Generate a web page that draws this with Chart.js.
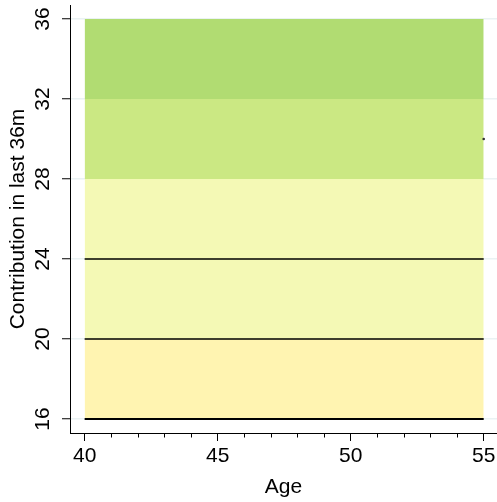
<!DOCTYPE html>
<html>
<head>
<meta charset="utf-8">
<script src="https://cdn.jsdelivr.net/npm/chart.js@4/dist/chart.umd.min.js"></script>
<style>
  html, body { margin: 0; padding: 0; background: #ffffff; }
  #wrap { width: 497px; height: 502px; }
</style>
</head>
<body>
<div id="wrap"><canvas id="c" width="497" height="502"></canvas></div>
<script>
// ---- data ----
const ageRange = [40, 55];
const bandLower = [16, 20, 28, 32];
const bandUpper = [20, 28, 32, 36];
const refLines = [16, 20, 24];
const markerAge = [55];
const markerValue = [30];
const xTickValues = [40, 45, 50, 55];
const xMinorTicks = [41, 42, 43, 44, 46, 47, 48, 49, 51, 52, 53, 54];
const yTickValues = [16, 20, 24, 28, 32, 36];

// ---- styling ----
const bandColors = ['#fff4b1', '#f4f9b5', '#cbe883', '#b1dc72'];
const refLineWidths = [2, 1.5, 1.5];
const FONT = '"Liberation Sans", Arial, sans-serif';

const datasets = [];
refLines.forEach((v, i) => {
  datasets.push({
    type: 'line',
    data: ageRange.map(a => ({ x: a, y: v })),
    borderColor: '#000000',
    borderWidth: refLineWidths[i],
    pointRadius: 0,
    fill: false,
    order: 0
  });
});
datasets.push({
  type: 'line',
  data: markerAge.map((a, i) => ({ x: a, y: markerValue[i] })),
  showLine: false,
  pointRadius: 1.3,
  pointBackgroundColor: '#333333',
  pointBorderWidth: 0,
  order: 0
});
bandLower.forEach((lo, i) => {
  datasets.push({
    type: 'line',
    data: ageRange.map(a => ({ x: a, y: bandUpper[i] })),
    borderWidth: 0,
    borderColor: 'rgba(0,0,0,0)',
    backgroundColor: bandColors[i],
    pointRadius: 0,
    fill: { value: lo },
    order: 2
  });
});

const minorTickPlugin = {
  id: 'minorTicks',
  afterDraw(chart) {
    const xs = chart.scales.x;
    const ctx = chart.ctx;
    const y0 = chart.chartArea.bottom;
    ctx.save();
    ctx.strokeStyle = '#000000';
    ctx.lineWidth = 1;
    ctx.beginPath();
    xMinorTicks.forEach(v => {
      const px = Math.round(xs.getPixelForValue(v)) + 0.5;
      ctx.moveTo(px, y0);
      ctx.lineTo(px, y0 + 4.5);
    });
    ctx.stroke();
    ctx.restore();
  }
};

new Chart(document.getElementById('c'), {
  type: 'line',
  data: { datasets },
  plugins: [minorTickPlugin],
  options: {
    responsive: false,
    animation: false,
    devicePixelRatio: 1,
    layout: { autoPadding: false, padding: { top: 5, right: 0, bottom: 0, left: 0 } },
    plugins: { legend: { display: false }, tooltip: { enabled: false } },
    scales: {
      x: {
        type: 'linear',
        min: 39.45,
        max: 55.5,
        afterFit(s) { s.height = 69; s.paddingLeft = 0; s.paddingRight = 0; },
        afterBuildTicks(s) { s.ticks = xTickValues.map(v => ({ value: v })); },
        ticks: {
          color: '#000000',
          font: { family: FONT, size: 21 },
          padding: 3,
          maxRotation: 0,
          minRotation: 0
        },
        grid: {
          drawOnChartArea: false,
          drawTicks: true,
          tickLength: 8,
          tickColor: '#000000',
          tickWidth: 1
        },
        border: { display: true, color: '#000000', width: 1 },
        title: {
          display: true,
          text: 'Age',
          color: '#000000',
          font: { family: FONT, size: 21, lineHeight: 1.2 },
          padding: { top: 0, bottom: 2.5 }
        }
      },
      y: {
        type: 'linear',
        min: 15.3,
        max: 36.7,
        afterFit(s) { s.width = 70; s.paddingTop = 0; s.paddingBottom = 0; },
        afterBuildTicks(s) { s.ticks = yTickValues.map(v => ({ value: v })); },
        ticks: {
          color: '#000000',
          font: { family: FONT, size: 21 },
          padding: 7,
          minRotation: 90,
          maxRotation: 90,
          crossAlign: 'center'
        },
        grid: {
          drawOnChartArea: true,
          color: '#eaf2f3',
          lineWidth: 1.5,
          drawTicks: true,
          tickLength: 8,
          tickColor: '#000000',
          tickWidth: 1
        },
        border: { display: true, color: '#000000', width: 1 },
        title: {
          display: true,
          text: 'Contribution in last 36m',
          color: '#000000',
          font: { family: FONT, size: 21, lineHeight: 1.2 },
          padding: { top: 6, bottom: 0 }
        }
      }
    }
  }
});
</script>
</body>
</html>
